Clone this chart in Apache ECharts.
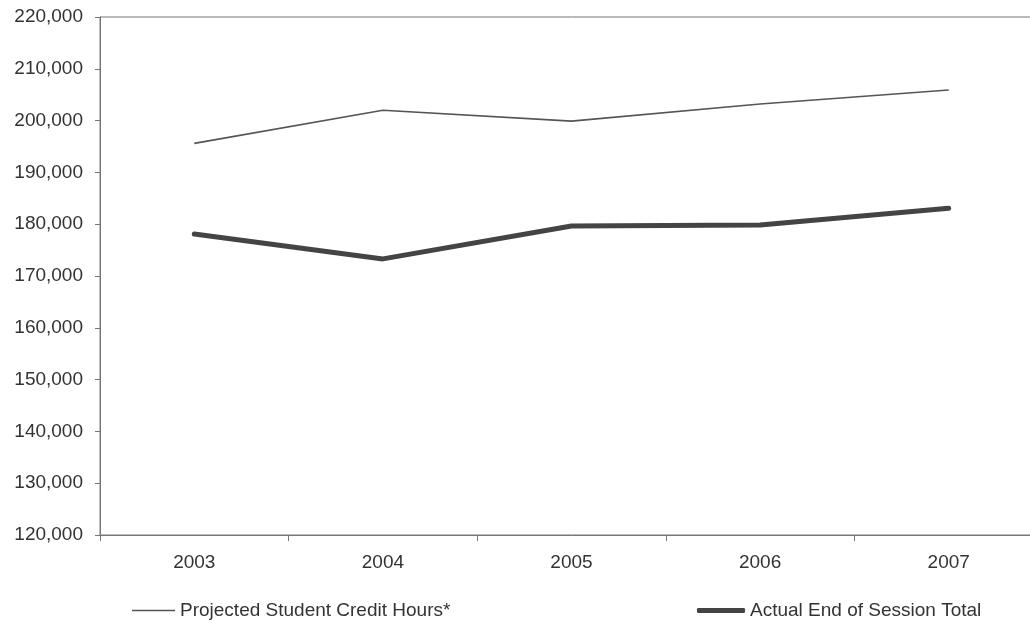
<!DOCTYPE html>
<html>
<head>
<meta charset="utf-8">
<script src="https://cdn.jsdelivr.net/npm/echarts@6/dist/echarts.min.js"></script>
<style>html,body{margin:0;padding:0;background:#fff;overflow:hidden;width:1030px;height:622px}#c{width:1045px;height:622px}</style>
</head>
<body>
<div id="c"></div>
<script>
const years = ['2003', '2004', '2005', '2006', '2007'];
const projected = [195600, 202000, 199900, 203200, 205900];
const actual = [178100, 173300, 179650, 179850, 183100];
const seriesNames = ['Projected Student Credit Hours*', 'Actual End of Session Total'];
const yMin = 120000, yMax = 220000, yStep = 10000;

const chart = echarts.init(document.getElementById('c'));
const font = 'Liberation Sans, Arial, sans-serif';
chart.setOption({
  animation: false,
  backgroundColor: '#fff',
  grid: { left: 100, right: 2, top: 17, bottom: 87, show: true, borderColor: '#777', borderWidth: 1, backgroundColor: 'transparent' },
  xAxis: {
    type: 'category', data: years, boundaryGap: true,
    axisLine: { lineStyle: { color: '#777', width: 1 } },
    axisTick: { show: true, length: 6, lineStyle: { color: '#777' } },
    axisLabel: { color: '#333', fontSize: 19, fontFamily: font, margin: 18 },
    splitLine: { show: false }
  },
  yAxis: {
    type: 'value', min: yMin, max: yMax, interval: yStep,
    axisLine: { show: true, lineStyle: { color: '#777', width: 1 } },
    axisTick: { show: true, length: 5, lineStyle: { color: '#777' } },
    axisLabel: { color: '#333', fontSize: 19, fontFamily: font, margin: 17,
      formatter: v => v.toLocaleString('en-US') },
    splitLine: { show: false }
  },
  legend: [
    { data: [{ name: seriesNames[0], icon: 'rect' }], left: 127, top: 596, itemWidth: 43, itemHeight: 1.5,
      textStyle: { color: '#333', fontSize: 19, fontFamily: font } },
    { data: [{ name: seriesNames[1], icon: 'roundRect' }], left: 692, top: 596, itemWidth: 48, itemHeight: 5,
      textStyle: { color: '#333', fontSize: 19, fontFamily: font } }
  ],
  series: [
    { name: seriesNames[0], type: 'line', data: projected, showSymbol: false, symbol: 'none',
      lineStyle: { color: '#555', width: 1.6 }, itemStyle: { color: '#555' } },
    { name: seriesNames[1], type: 'line', data: actual, showSymbol: false, symbol: 'none',
      lineStyle: { color: '#444', width: 5, cap: 'round', join: 'round' }, itemStyle: { color: '#444' } }
  ]
});
</script>
</body>
</html>
